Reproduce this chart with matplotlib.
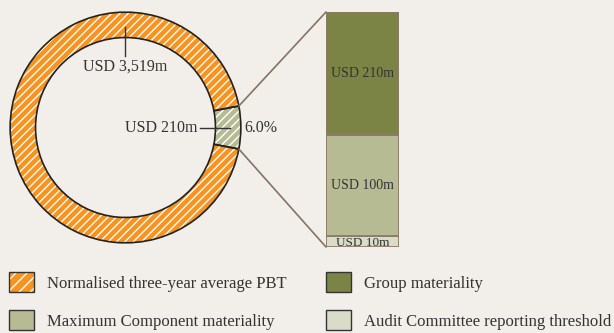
import matplotlib
matplotlib.use('Agg')
import numpy as np
import matplotlib.pyplot as plt
from matplotlib.patches import Patch, ConnectionPatch

plt.rcParams['font.family'] = ['Liberation Serif', 'DejaVu Serif']
plt.rcParams['hatch.linewidth'] = 1.0

# Values in USD m
pbt = 3519
group_mat = 210
component_mat = 100
ac_threshold = 10

ring_labels = ['USD 3,519m', 'USD 210m']
legend_labels = ['Normalised three-year average PBT', 'Maximum Component materiality',
                 'Group materiality', 'Audit Committee reporting threshold']

bg = '#f2eeea'
orange = '#f7931e'
dark_green = '#7b8444'
mid_green = '#b6bb94'
pale_green = '#d9dcc8'
edge_brown = '#8c7b69'
text_col = '#333333'

fig = plt.figure(figsize=(6.14, 3.33), dpi=100, facecolor=bg)

# Donut: group materiality as a slice of PBT
ax = fig.add_axes([8 / 614, 89 / 333, 235 / 614, 233 / 333])
ax.set_facecolor(bg)
share = group_mat / pbt
half = share * 360 / 2
sizes = [group_mat, pbt - group_mat]
ax.pie(sizes, colors=[mid_green, orange], startangle=-half, counterclock=True,
       radius=1, wedgeprops=dict(width=0.22, edgecolor='white', linewidth=0, hatch='////'))
ax.pie(sizes, colors=['none', 'none'], startangle=-half, counterclock=True,
       radius=1, wedgeprops=dict(width=0.22, edgecolor='#222222', linewidth=1.2, fill=False))
ax.set_xlim(-1.01, 1.01)
ax.set_ylim(-1.01, 1.01)
ax.set_aspect('equal')
ax.axis('off')

ax.plot([0, 0], [0.87, 0.62], color='#333333', lw=1)
ax.text(0, 0.53, ring_labels[0], ha='center', va='center', fontsize=11.5, color=text_col)
ax.plot([0.65, 0.91], [0, 0], color='#333333', lw=1)
ax.text(0.62, 0, ring_labels[1], ha='right', va='center', fontsize=11.5, color=text_col)
ax.text(1.03, 0, f'{share * 100:.1f}%', ha='left', va='center', fontsize=11.5, color=text_col)

# Stacked bar breaking down group materiality
bax = fig.add_axes([326 / 614, 86 / 333, 73 / 614, 235 / 333])
bax.set_facecolor(bg)
bounds = [0, ac_threshold, component_mat, group_mat]
cols = [pale_green, mid_green, dark_green]
for lo, hi, c in zip(bounds[:-1], bounds[1:], cols):
    bax.bar(0.5, hi - lo, bottom=lo, width=1, color=c, edgecolor=edge_brown, linewidth=1.3)
bax.set_xlim(0, 1)
bax.set_ylim(0, group_mat)
bax.axis('off')
bax.text(0.5, (component_mat + group_mat) / 2, f'USD {group_mat}m', ha='center', va='center',
         fontsize=10, color=text_col)
bax.text(0.5, (ac_threshold + component_mat) / 2, f'USD {component_mat}m', ha='center', va='center',
         fontsize=10, color=text_col)
bax.text(0.5, ac_threshold / 2 - 1, f'USD {ac_threshold}m', ha='center', va='center',
         fontsize=9.5, color=text_col)

# Connector lines from the slice to the bar
for ang, yb in [(half, group_mat), (-half, 0)]:
    p = (np.cos(np.radians(ang)), np.sin(np.radians(ang)))
    con = ConnectionPatch(xyA=p, coordsA=ax.transData, xyB=(0, yb), coordsB=bax.transData,
                          color='#85745f', lw=1.2)
    fig.add_artist(con)

# Legend in two pinned columns
border = dict(fill=False, edgecolor='#333333', linewidth=1)
handles = [(Patch(facecolor=orange, edgecolor='white', linewidth=0, hatch='///'), Patch(**border)),
           Patch(facecolor=mid_green, edgecolor='#333333'),
           Patch(facecolor=dark_green, edgecolor='#333333'),
           Patch(facecolor=pale_green, edgecolor='#333333')]
kw = dict(loc='upper left', frameon=False, fontsize=12, handlelength=1.5, handleheight=1.5,
          handletextpad=0.8, labelspacing=1.05, borderpad=0, borderaxespad=0, labelcolor=text_col)
fig.legend(handles[:2], legend_labels[:2], bbox_to_anchor=(9 / 614, 1 - 272 / 333), **kw)
fig.legend(handles[2:], legend_labels[2:], bbox_to_anchor=(326 / 614, 1 - 272 / 333), **kw)

fig.savefig('out.png', dpi=100, facecolor=bg)
